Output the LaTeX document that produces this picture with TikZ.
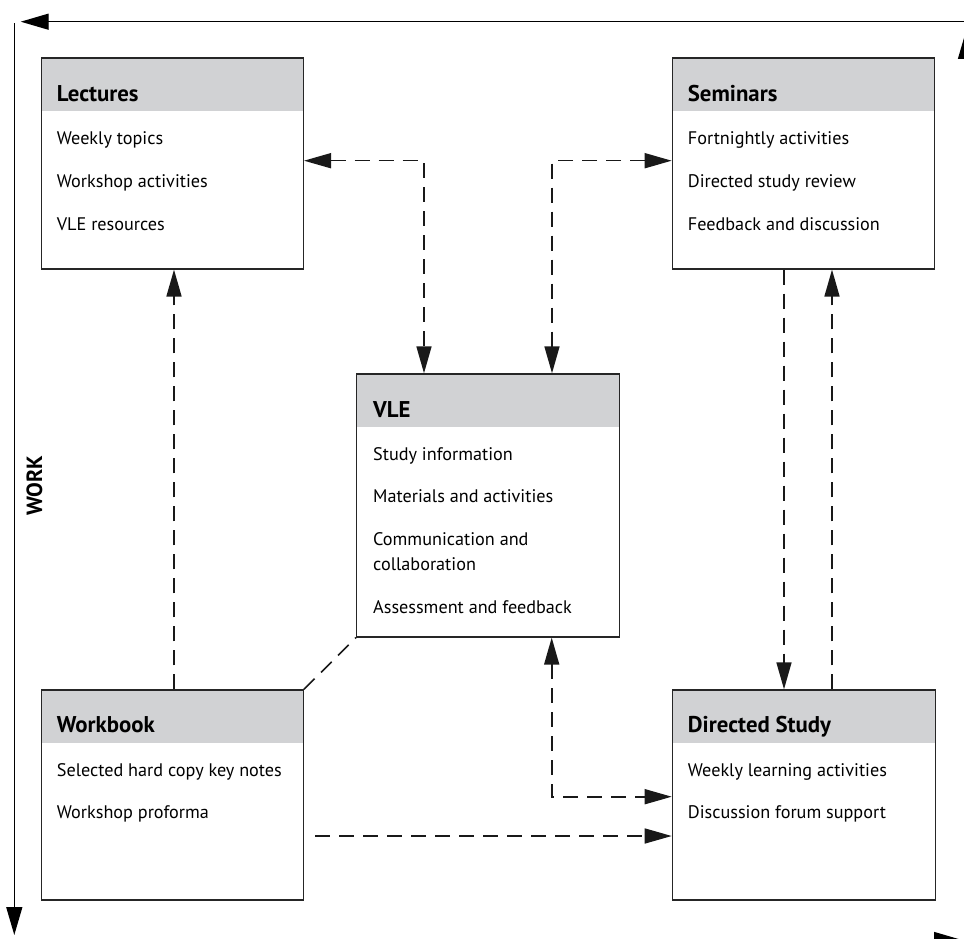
\documentclass[tikz,border=0pt]{standalone}
\usepackage{fontspec}
\setmainfont{PT Sans}
\usetikzlibrary{arrows.meta}
\definecolor{hdrgray}{RGB}{209,210,212}
\tikzstyle{panel}=[draw=black!85, line width=1.3pt, anchor=north west, inner sep=0pt, minimum width=262pt, minimum height=211pt, path picture={\fill[hdrgray] (path picture bounding box.north west) rectangle ([yshift=-53pt]path picture bounding box.north east);}]
\tikzstyle{head}=[anchor=base west, inner sep=0pt, font=\fontsize{22.8}{26}\selectfont\bfseries]
\tikzstyle{item}=[anchor=base west, inner sep=0pt, font=\fontsize{18.2}{22}\selectfont]
\tikzstyle{dlink}=[draw=black!90, line width=1.6pt, dash pattern=on 15pt off 9pt, >={Triangle[length=27pt,width=15pt]}]
\tikzstyle{loop}=[draw=black, line width=1.4pt, >={Triangle[length=28pt,width=16pt]}]

\begin{document}
\begin{tikzpicture}[x=1pt,y=-1pt]
\useasboundingbox (0,0) rectangle (964,939);
\clip (0,0) rectangle (964,939);
% boxes
\node[panel] at (40.7,57.3) (lec) {};
\node[panel] at (671.7,57.3) (sem) {};
\node[panel, minimum width=263pt, minimum height=263pt] at (356,373.3) (vle) {};
\node[panel, minimum height=210pt] at (40.7,689.3) (wb) {};
\node[panel, minimum width=263pt, minimum height=210pt] at (671.7,689.3) (ds) {};
% box texts
\node[head] at (56.7,101.7) (lech) {Lectures};
\node[item] at (56.7,144.3) (lec1) {Weekly topics};
\node[item] at (56.7,187.3) (lec2) {Workshop activities};
\node[item] at (56.7,230.3) (lec3) {VLE resources};
\node[head] at (687.7,101.7) (semh) {Seminars};
\node[item] at (687.7,144.3) (sem1) {Fortnightly activities};
\node[item] at (687.7,187.3) (sem2) {Directed study review};
\node[item] at (687.7,230.3) (sem3) {Feedback and discussion};
\node[head] at (373,417) (vleh) {VLE};
\node[item] at (373,460) (vle1) {Study information};
\node[item] at (373,502.7) (vle2) {Materials and activities};
\node[item] at (373,545) (vle3) {Communication and};
\node[item] at (373,570.7) (vle4) {collaboration};
\node[item] at (373,613) (vle5) {Assessment and feedback};
\node[head] at (56.7,732.7) (wbh) {Workbook};
\node[item] at (56.7,776.7) (wb1) {Selected hard copy key notes};
\node[item] at (56.7,818) (wb2) {Workshop proforma};
\node[head] at (687.7,732.7) (dsh) {Directed Study};
\node[item] at (687.7,776.7) (ds1) {Weekly learning activities};
\node[item] at (687.7,818) (ds2) {Discussion forum support};
\node[rotate=90, font=\fontsize{22}{26}\selectfont\bfseries] at (34.5,486) (work) {WORK};
% bend points
\coordinate (c1) at (424,160.7);
\coordinate (c2) at (552,160.7);
\coordinate (c3) at (784,0);
\coordinate (c4) at (832,0);
\coordinate (c5) at (174,0);
\coordinate (c6) at (551.7,796.7);
\coordinate (c7) at (315,836);
% dashed links
\draw[dlink,<->] (lec.east |- c1) -- (c1) -- (vle.north -| c1);
\draw[dlink,<->] (sem.west |- c2) -- (c2) -- (vle.north -| c2);
\draw[dlink,->] (sem.south -| c3) -- (ds.north -| c3);
\draw[dlink,->] (ds.north -| c4) -- (sem.south -| c4);
\draw[dlink,->] (wb.north -| c5) -- (lec.south -| c5);
\draw[dlink] (wb.north east) -- (vle.south west);
\draw[dlink,<->] (vle.south -| c6) -- (c6) -- (ds.west |- c6);
\draw[dlink,->] (c7) -- (ds.west |- c7);
% outer cycle
\coordinate (f1) at (970,21.7);
\coordinate (f2) at (20.7,21.7);
\coordinate (f3) at (14.3,23.3);
\coordinate (f4) at (14.3,935);
\coordinate (f5) at (14.3,940);
\coordinate (f6) at (962,940);
\coordinate (f7) at (966,945);
\coordinate (f8) at (966,31);
\draw[loop,->] (f1) -- (f2);
\draw[loop,->] (f3) -- (f4);
\draw[loop,->] (f5) -- (f6);
\draw[loop,->] (f7) -- (f8);
\end{tikzpicture}
\end{document}
